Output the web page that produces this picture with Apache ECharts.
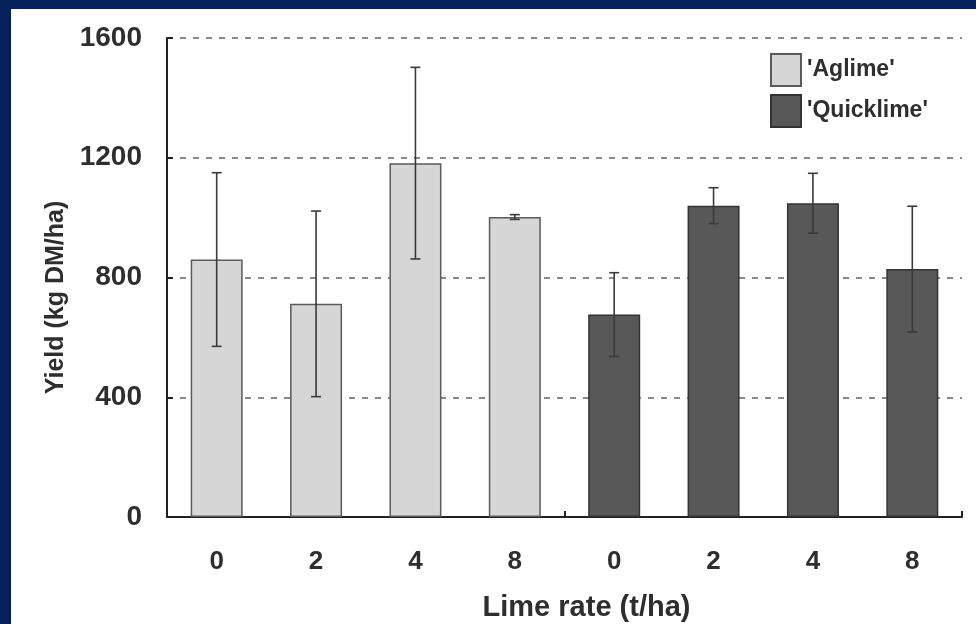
<!DOCTYPE html>
<html>
<head>
<meta charset="utf-8">
<script src="https://cdn.jsdelivr.net/npm/echarts@6/dist/echarts.min.js"></script>
<style>
html,body{margin:0;padding:0;background:#fff;}
#c{width:976px;height:624px;}
</style>
</head>
<body>
<div id="c"></div>
<script>
// Data
var rateLabels = ['0', '2', '4', '8', '0', '2', '4', '8'];
var aglimeValues = [860, 712, 1182, 1002, null, null, null, null];
var aglimeErr = [290, 310, 320, 8, null, null, null, null];
var quicklimeValues = [null, null, null, null, 676, 1040, 1048, 828];
var quicklimeErr = [null, null, null, null, 140, 60, 100, 210];
var yTicks = [0, 400, 800, 1200, 1600];
var seriesNames = ["'Aglime'", "'Quicklime'"];

function errData(vals, errs) {
  var out = [];
  for (var i = 0; i < vals.length; i++) {
    if (vals[i] != null && errs[i] != null) out.push([i, vals[i] - errs[i], vals[i] + errs[i]]);
  }
  return out;
}

function errRender(params, api) {
  var x = api.value(0);
  var lo = api.coord([x, api.value(1)]);
  var hi = api.coord([x, api.value(2)]);
  var hw = 5;
  var st = { stroke: '#3a3a3a', lineWidth: 1.6 };
  return {
    type: 'group',
    children: [
      { type: 'line', shape: { x1: lo[0], y1: lo[1], x2: hi[0], y2: hi[1] }, style: st },
      { type: 'line', shape: { x1: lo[0] - hw, y1: lo[1], x2: lo[0] + hw, y2: lo[1] }, style: st },
      { type: 'line', shape: { x1: hi[0] - hw, y1: hi[1], x2: hi[0] + hw, y2: hi[1] }, style: st }
    ]
  };
}

var font = '"Liberation Sans", Arial, sans-serif';
var txt = '#2e2e2e';
var chart = echarts.init(document.getElementById('c'));
chart.setOption({
  backgroundColor: '#ffffff',
  animation: false,
  textStyle: { fontFamily: font },
  graphic: [
    { type: 'rect', shape: { x: 0, y: 0, width: 976, height: 9 }, style: { fill: '#06205a' }, z: 100 },
    { type: 'rect', shape: { x: 0, y: 0, width: 11, height: 624 }, style: { fill: '#06205a' }, z: 100 }
  ],
  legend: {
    orient: 'vertical',
    left: 765,
    top: 48,
    itemWidth: 30,
    itemHeight: 32,
    itemGap: 7,
    icon: 'rect',
    textStyle: { fontFamily: font, fontWeight: 'bold', fontSize: 23, color: txt, padding: [4, 0, 0, 1] },
    data: seriesNames
  },
  grid: { left: 167, right: 14, top: 38, bottom: 107, containLabel: false, outerBoundsMode: 'none' },
  xAxis: {
    type: 'category',
    data: rateLabels,
    boundaryGap: true,
    name: 'Lime rate (t/ha)',
    nameLocation: 'middle',
    nameGap: 76,
    nameTextStyle: { fontFamily: font, fontWeight: 'bold', fontSize: 29, color: txt, padding: [0, 0, 0, 44] },
    axisLine: { show: true, lineStyle: { color: '#222', width: 2 } },
    axisTick: {
      show: true, inside: true, length: 6,
      interval: function (idx) { return idx % 4 === 0; },
      lineStyle: { color: '#222', width: 2 }
    },
    axisLabel: { margin: 32, fontFamily: font, fontWeight: 'bold', fontSize: 26, color: txt, interval: 0 },
    splitLine: { show: false }
  },
  yAxis: {
    type: 'value',
    min: yTicks[0],
    max: yTicks[yTicks.length - 1],
    interval: 400,
    name: 'Yield (kg DM/ha)',
    nameLocation: 'middle',
    nameGap: 98,
    nameRotate: 90,
    nameTextStyle: { fontFamily: font, fontWeight: 'bold', fontSize: 25, color: txt, padding: [0, 40, 0, 0] },
    axisLine: { show: true, lineStyle: { color: '#222', width: 2 } },
    axisTick: { show: true, inside: true, length: 6, lineStyle: { color: '#222', width: 2 } },
    axisLabel: {
      margin: 25, fontFamily: font, fontWeight: 'bold', fontSize: 28, color: txt,
      formatter: function (v) { return String(v); }
    },
    splitLine: { show: true, lineStyle: { color: '#8a8a8a', width: 2, type: [6, 7] } }
  },
  series: [
    {
      name: seriesNames[0],
      type: 'bar',
      data: aglimeValues,
      barWidth: 52,
      barGap: '-100%',
      itemStyle: { color: '#d6d6d6', borderColor: '#5a5a5a', borderWidth: 1.5 },
      z: 2
    },
    {
      name: seriesNames[1],
      type: 'bar',
      data: quicklimeValues,
      barWidth: 52,
      barGap: '-100%',
      itemStyle: { color: '#585858', borderColor: '#333333', borderWidth: 1.5 },
      z: 2
    },
    {
      type: 'custom',
      renderItem: errRender,
      data: errData(aglimeValues, aglimeErr),
      encode: { x: 0, y: [1, 2] },
      z: 5
    },
    {
      type: 'custom',
      renderItem: errRender,
      data: errData(quicklimeValues, quicklimeErr),
      encode: { x: 0, y: [1, 2] },
      z: 5
    }
  ]
});
</script>
</body>
</html>
